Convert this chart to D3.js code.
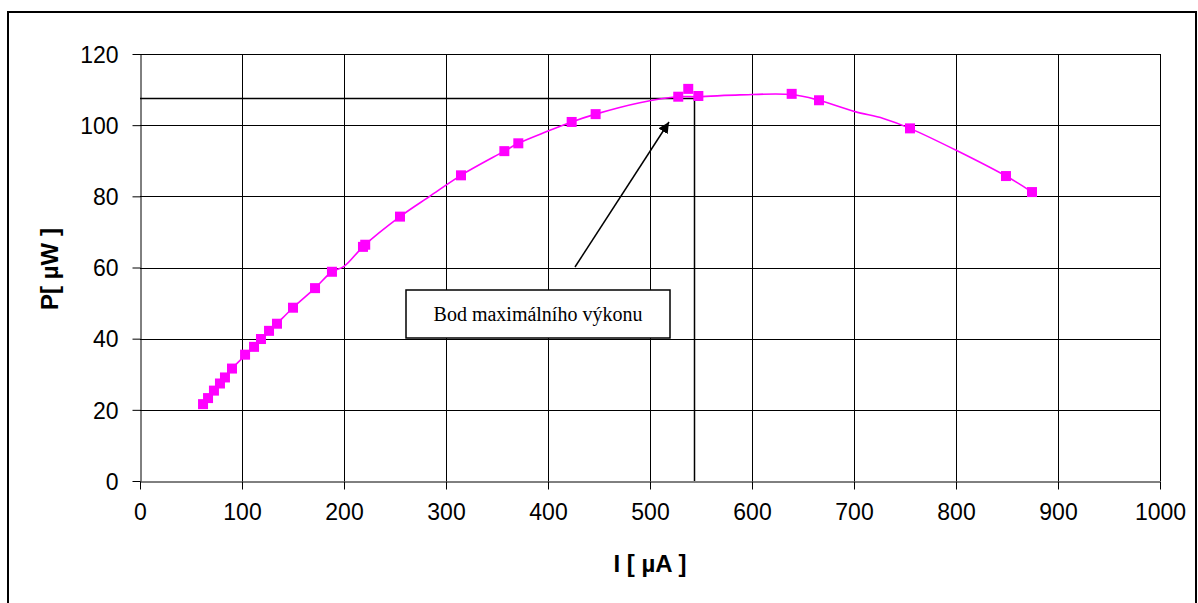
<!DOCTYPE html>
<html>
<head>
<meta charset="utf-8">
<script src="https://cdn.jsdelivr.net/npm/d3@7"></script>
<style>
  body { margin: 0; background: #fff; }
  svg { display: block; }
  .tick text { font-family: "Liberation Sans", Arial, sans-serif; font-size: 23px; fill: #000; }
  .title { font-family: "Liberation Sans", Arial, sans-serif; font-size: 24px; font-weight: bold; }
</style>
</head>
<body>
<div id="chart"></div>
<script>
// measured points (markers)
const currentI = [61.8, 66.7, 72.5, 78.4, 83.3, 90.2, 103, 111.8, 118.6, 126.5, 134.3, 150, 171.6, 188.2, 218.6, 220.8, 254.9, 314.7, 357.2, 370.9, 423.2, 446.7, 527.7, 537.5, 547.4, 638.9, 665.7, 754.9, 849, 874.5];
const powerP   = [21.6, 23.3, 25.4, 27.4, 29.1, 31.6, 35.5, 37.7, 39.9, 42.2, 44.2, 48.7, 54.2, 58.8, 65.8, 66.4, 74.3, 85.9, 92.7, 94.9, 100.9, 103.1, 108.0, 110.2, 108.2, 108.8, 107.0, 99.1, 85.7, 81.2];

// smoothed line vertices
const curveI = [61.8, 72.5, 90.2, 111.8, 134.3, 150, 171.6, 188.2, 200, 219.5, 254.9, 284, 314.7, 357.2, 370.9, 398.7, 423.2, 446.7, 490, 527.7, 547.4, 588, 638.9, 665.7, 701, 728.7, 754.9, 849, 874.5];
const curveP = [21.6, 25.4, 31.6, 37.7, 44.2, 48.7, 54.2, 58.8, 60.3, 66.1, 74.3, 80.0, 85.9, 92.7, 94.9, 98.2, 100.9, 103.1, 106.3, 108.0, 108.0, 108.5, 108.6, 107.0, 103.8, 101.9, 99.1, 85.7, 81.2];

const xTicks = [0, 100, 200, 300, 400, 500, 600, 700, 800, 900, 1000];
const yTicks = [0, 20, 40, 60, 80, 100, 120];

// maximum power point marked by the lines
const maxI = 543;
const maxP = 107.6;
const noteText = "Bod maximálního výkonu";

const W = 1198, H = 603;
const svg = d3.select('#chart').append('svg')
    .attr('width', W)
    .attr('height', H);

// outer frame
svg.append('rect')
    .attr('x', 8).attr('y', 12)
    .attr('width', 1188).attr('height', 620)
    .attr('fill', 'none')
    .attr('stroke', '#000')
    .attr('stroke-width', 2);

const xScale = d3.scaleLinear().domain([0, 1000]).range([140, 1160]);
const yScale = d3.scaleLinear().domain([0, 120]).range([481, 54]);

// grid
svg.append('g').selectAll('line')
    .data(yTicks.slice(1))
    .enter().append('line')
    .attr('x1', xScale(0)).attr('x2', xScale(1000))
    .attr('y1', d => Math.round(yScale(d)) + 0.5)
    .attr('y2', d => Math.round(yScale(d)) + 0.5)
    .attr('stroke', '#000');

svg.append('g').selectAll('line')
    .data(xTicks.slice(1))
    .enter().append('line')
    .attr('y1', yScale(0)).attr('y2', yScale(120))
    .attr('x1', d => Math.round(xScale(d)) + 0.5)
    .attr('x2', d => Math.round(xScale(d)) + 0.5)
    .attr('stroke', '#000');

// axes
const xAxis = svg.append('g')
    .attr('transform', `translate(0,${Math.round(yScale(0)) + 0.5})`)
    .call(d3.axisBottom(xScale).tickValues(xTicks).tickFormat(d3.format('d'))
        .tickSize(8).tickPadding(14).tickSizeOuter(0));
const yAxis = svg.append('g')
    .attr('transform', `translate(${Math.round(xScale(0)) + 0.5},0)`)
    .call(d3.axisLeft(yScale).tickValues(yTicks).tickFormat(d3.format('d'))
        .tickSize(8).tickPadding(14).tickSizeOuter(0));
[xAxis, yAxis].forEach(a => {
    a.select('.domain').attr('stroke', '#000');
    a.selectAll('.tick line').attr('stroke', '#000');
});
yAxis.selectAll('.tick text').attr('dy', '0.36em');

// axis titles
svg.append('text')
    .attr('class', 'title')
    .attr('transform', 'translate(58,269) rotate(-90)')
    .attr('text-anchor', 'middle')
    .text('P[ µW ]');
svg.append('text')
    .attr('class', 'title')
    .attr('x', 650).attr('y', 572)
    .attr('text-anchor', 'middle')
    .text('I [ µA ]');

// max power lines
svg.append('path')
    .attr('d', `M${xScale(0)},${Math.round(yScale(maxP)) + 0.5}H${Math.round(xScale(maxI)) + 0.5}V${yScale(0)}`)
    .attr('fill', 'none')
    .attr('stroke', '#000')
    .attr('stroke-width', 1.5);

// curve
const curveData = curveI.map((v, i) => [v, curveP[i]]);
const line = d3.line()
    .x(d => xScale(d[0]))
    .y(d => yScale(d[1]))
    .curve(d3.curveCatmullRom.alpha(0.5));
svg.append('path')
    .datum(curveData)
    .attr('d', line)
    .attr('fill', 'none')
    .attr('stroke', '#ff00ff')
    .attr('stroke-width', 1.6);

// markers
const s = 10;
svg.append('g').selectAll('rect')
    .data(currentI.map((v, i) => [v, powerP[i]]))
    .enter().append('rect')
    .attr('x', d => xScale(d[0]) - s / 2)
    .attr('y', d => yScale(d[1]) - s / 2)
    .attr('width', s).attr('height', s)
    .attr('fill', '#ff00ff');

// annotation box + arrow
svg.append('defs').append('marker')
    .attr('id', 'arrow')
    .attr('viewBox', '0 0 10 10')
    .attr('refX', 10).attr('refY', 5)
    .attr('markerWidth', 11).attr('markerHeight', 11)
    .attr('markerUnits', 'userSpaceOnUse')
    .attr('orient', 'auto')
    .append('path')
    .attr('d', 'M0,0L10,5L0,10z')
    .attr('fill', '#000');

svg.append('line')
    .attr('x1', 575).attr('y1', 267)
    .attr('x2', 669).attr('y2', 122)
    .attr('stroke', '#000')
    .attr('stroke-width', 1.5)
    .attr('marker-end', 'url(#arrow)');

svg.append('rect')
    .attr('x', 406).attr('y', 290)
    .attr('width', 264).attr('height', 48)
    .attr('fill', '#fff')
    .attr('stroke', '#000')
    .attr('stroke-width', 1.5);
svg.append('text')
    .attr('x', 538).attr('y', 321)
    .attr('text-anchor', 'middle')
    .attr('font-family', '"Liberation Serif", "Times New Roman", serif')
    .attr('font-size', 20)
    .text(noteText);
</script>
</body>
</html>
